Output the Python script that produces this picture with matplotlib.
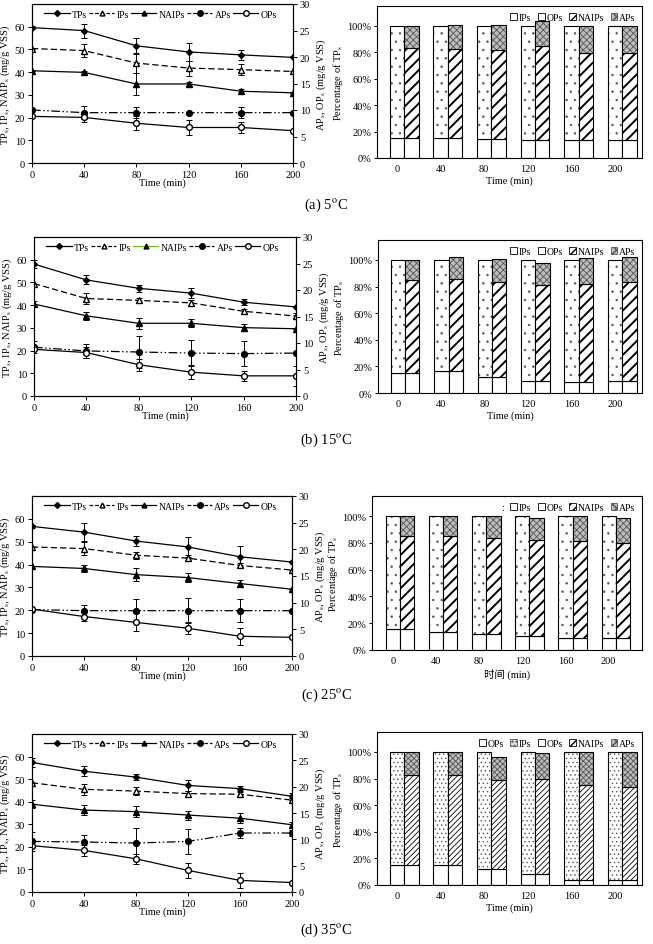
import matplotlib
matplotlib.use("Agg")
import matplotlib.pyplot as plt
from matplotlib.lines import Line2D
from matplotlib.patches import Patch
import numpy as np

plt.rcParams['font.family'] = ['Liberation Serif', 'Noto Sans CJK SC']
plt.rcParams['mathtext.fontset'] = 'stix'
plt.rcParams['axes.linewidth'] = 0.8

time = [0, 40, 80, 120, 160, 200]
captions = ["(a) 5$^{\\mathrm{o}}$C", "(b) 15$^{\\mathrm{o}}$C",
            "(c) 25$^{\\mathrm{o}}$C", "(d) 35$^{\\mathrm{o}}$C"]

# left axis (mg/g VSS), one row per temperature
tps = [[59.6, 58.3, 51.6, 48.9, 47.6, 46.5],
       [58.1, 51.1, 47.4, 45.3, 41.3, 39.2],
       [56.7, 54.2, 50.3, 47.7, 43.4, 41.1],
       [57.4, 53.5, 50.9, 47.2, 45.8, 42.4]]
tps_err = [[0.7, 3.1, 3.4, 4.0, 2.3, 0],
           [1.7, 2.0, 1.5, 2.2, 1.2, 0],
           [0.5, 4.1, 2.2, 4.2, 4.6, 0],
           [1.9, 2.3, 1.2, 2.5, 1.0, 1.5]]
ips = [[50.4, 49.5, 44.0, 41.8, 41.1, 40.3],
       [49.5, 42.9, 42.1, 41.0, 37.3, 35.2],
       [47.7, 47.0, 44.1, 42.8, 39.6, 37.6],
       [48.4, 45.5, 44.7, 43.6, 43.3, 40.7]]
ips_err = [[0, 3.0, 4.5, 3.3, 2.5, 0],
           [0, 2.3, 1.0, 1.1, 1.1, 1.4],
           [0, 2.9, 1.6, 1.4, 1.2, 0],
           [0, 2.5, 1.6, 1.3, 1.2, 0.8]]
naips = [[40.6, 39.9, 34.8, 34.8, 31.6, 30.9],
         [40.5, 35.3, 32.0, 32.0, 30.1, 29.6],
         [39.2, 38.3, 35.6, 34.3, 31.7, 29.2],
         [38.9, 36.3, 35.6, 34.1, 32.7, 29.8]]
naips_err = [[0, 0.8, 4.7, 0.8, 0.8, 0],
             [1.5, 1.8, 2.5, 1.8, 1.5, 0],
             [0, 1.4, 2.7, 1.9, 1.6, 0],
             [1.8, 2.2, 2.5, 2.0, 2.2, 1.4]]
# right axis (mg/g VSS)
aps = [[10.0, 9.5, 9.5, 9.5, 9.5, 9.5],
       [9.2, 8.5, 8.3, 8.1, 8.0, 8.1],
       [8.7, 8.5, 8.5, 8.5, 8.5, 8.5],
       [9.6, 9.5, 9.3, 9.6, 11.2, 11.2]]
aps_err = [[0, 1.2, 1.0, 0, 1.1, 0],
           [1.1, 1.4, 3.1, 2.5, 2.3, 0],
           [0, 1.0, 2.2, 2.3, 2.1, 0],
           [1.8, 1.3, 2.8, 2.4, 1.0, 0.5]]
ops = [[8.8, 8.6, 7.5, 6.7, 6.7, 6.1],
       [8.8, 8.2, 5.9, 4.5, 3.8, 3.8],
       [8.8, 7.4, 6.3, 5.2, 3.7, 3.5],
       [8.8, 7.9, 6.3, 4.1, 2.2, 1.8]]
ops_err = [[0, 0.9, 1.35, 1.35, 1.0, 0],
           [0, 1.0, 1.1, 1.3, 1.0, 1.9],
           [0, 0.9, 1.7, 1.1, 1.6, 0],
           [0, 1.0, 0.95, 1.5, 1.5, 0]]

# percentage of TPs
pct_ops = [[14.9, 14.9, 14.1, 13.6, 13.4, 13.4],
           [14.8, 16.3, 12.1, 9.0, 8.3, 9.0],
           [15.5, 13.5, 12.0, 10.7, 8.7, 8.7],
           [14.9, 14.9, 11.8, 8.0, 3.8, 3.8]]
pct_ips = [[85.1, 85.1, 85.9, 86.4, 86.6, 86.6],
           [85.2, 83.7, 87.9, 91.0, 91.7, 91.0],
           [84.5, 86.5, 88.0, 89.3, 91.3, 91.3],
           [85.1, 85.1, 88.2, 92.0, 96.2, 96.2]]
pct_naips = [[68.7, 67.5, 67.5, 70.8, 66.4, 65.7],
             [69.9, 69.6, 71.3, 71.9, 73.6, 74.4],
             [69.3, 71.3, 71.3, 71.6, 72.6, 71.3],
             [68.0, 67.5, 67.0, 71.3, 71.0, 69.7]]
pct_aps = [[16.4, 18.1, 18.9, 18.9, 20.2, 20.9],
           [15.3, 16.6, 17.6, 17.1, 19.9, 18.9],
           [15.2, 15.2, 16.7, 16.5, 18.7, 18.5],
           [17.1, 17.6, 17.4, 20.2, 25.2, 26.5]]

W, H = 653, 945
fig = plt.figure(figsize=(W / 100, H / 100), dpi=100)


def rect(l, r, t, b):
    return [l / W, 1 - b / H, (r - l) / W, (b - t) / H]


line_boxes = [(32, 293, 5, 164), (34, 296, 238, 397),
              (32, 292, 497, 657), (32, 292, 735, 893)]
bar_boxes = [(377, 642, 7, 159), (378, 642, 241, 394),
             (372, 642, 497, 651), (377, 642, 733, 886)]
bar_xlims = [(-0.46, 5.62), (-0.46, 5.62), (-0.48, 5.77), (-0.46, 5.62)]
caption_y = [205, 440, 695, 930]
dashdotdot = (0, (7, 2, 1.2, 2, 1.2, 2))

ebkw = dict(capsize=2, elinewidth=0.7, capthick=0.7, ecolor='black')

for k in range(4):
    ax = fig.add_axes(rect(*line_boxes[k]))
    ax2 = ax.twinx()
    ax.errorbar(time, tps[k], yerr=tps_err[k], color='black', lw=0.9,
                marker='D', ms=3, **ebkw)
    ax.errorbar(time, ips[k], yerr=ips_err[k], color='black', lw=0.9,
                ls=(0, (5, 2.5)), marker='^', ms=3.8, mfc='white', **ebkw)
    ax.errorbar(time, naips[k], yerr=naips_err[k], color='black', lw=0.9,
                marker='^', ms=3.8, **ebkw)
    ax2.errorbar(time, aps[k], yerr=aps_err[k], color='black', lw=0.9,
                 ls=dashdotdot, marker='o', ms=4.2, **ebkw)
    ax2.errorbar(time, ops[k], yerr=ops_err[k], color='black', lw=0.9,
                 marker='o', ms=4.2, mfc='white', **ebkw)
    ax.set_xlim(0, 200)
    ax.set_ylim(0, 70)
    ax.set_yticks(range(0, 61, 10))
    ax.set_xticks(time)
    ax2.set_ylim(0, 30)
    ax2.set_yticks(range(0, 31, 5))
    for a in (ax, ax2):
        a.tick_params(direction='out', length=3, width=0.7, labelsize=7.5, pad=2)
    ax.set_xlabel('Time (min)', fontsize=7.5, labelpad=-1)
    ax.set_ylabel(r'TP$_\mathrm{s}$, IP$_\mathrm{s}$, NAIP$_\mathrm{s}$ (mg/g VSS)',
                  fontsize=7.5, labelpad=2)
    ax2.set_ylabel(r'AP$_\mathrm{s}$, OP$_\mathrm{s}$ (mg/g VSS)', fontsize=7.5, labelpad=3)

    naips_color = '#66cc00' if k == 1 else 'black'
    handles = [
        Line2D([], [], color='black', lw=0.9, marker='D', ms=3),
        Line2D([], [], color='black', lw=0.9, ls=(0, (3, 1.5)), marker='^', ms=3.5, mfc='white'),
        Line2D([], [], color=naips_color, lw=0.9, marker='^', ms=3.5, mfc='black', mec='black'),
        Line2D([], [], color='black', lw=0.9, ls=(0, (3, 1.5)), marker='o', ms=4),
        Line2D([], [], color='black', lw=0.9, marker='o', ms=4, mfc='white'),
    ]
    ax2.legend(handles, ['TPs', 'IPs', 'NAIPs', 'APs', 'OPs'], loc='upper left',
               bbox_to_anchor=(0.025, 1.0), ncol=5, frameon=False, fontsize=7,
               handlelength=2.6, handletextpad=0.2, columnspacing=0.25,
               borderaxespad=0.4, borderpad=0.2)

    # stacked percentage bars
    bx = fig.add_axes(rect(*bar_boxes[k]))
    x = np.arange(len(time))
    w = 0.33
    fine = (k == 3)
    dot_h = '....' if fine else '..'
    line_h = '//////' if fine else '///'
    cross_h = 'xxxxxx' if fine else 'xxxxx'
    hatch_lw = 0.6 if fine else 1.4

    def layer(xpos, vals, bottom, face, hatch, hcolor, hlw):
        with plt.rc_context({'hatch.linewidth': hlw}):
            bars = bx.bar(xpos, vals, w, bottom=bottom, color=face, hatch=hatch,
                          edgecolor=hcolor, linewidth=0)
            for p in bars:
                if hasattr(p, 'set_hatch_linewidth'):
                    p.set_hatch_linewidth(hlw)
        bx.bar(xpos, vals, w, bottom=bottom, fill=False, edgecolor='black',
               linewidth=0.8)

    b_ops = np.array(pct_ops[k])
    b_nai = np.array(pct_naips[k])
    layer(x, b_ops, 0, 'white', None, 'black', 0.5)
    layer(x, pct_ips[k], b_ops, 'white', dot_h, '#555555', 0.5)
    layer(x + w, b_ops, 0, 'white', None, 'black', 0.5)
    layer(x + w, b_nai, b_ops, 'white', line_h, 'black', hatch_lw)
    layer(x + w, pct_aps[k], b_ops + b_nai, '#bdbdbd', cross_h, '#555555', 0.6)

    bx.set_xlim(*bar_xlims[k])
    bx.set_ylim(0, 115)
    bx.set_yticks(range(0, 101, 20))
    bx.set_yticklabels([f'{v}%' for v in range(0, 101, 20)])
    bx.set_xticks(x)
    bx.set_xticklabels([str(t) for t in time])
    bx.tick_params(axis='x', length=0, labelsize=7.5, pad=4)
    bx.tick_params(axis='y', direction='out', length=2, width=0.7, labelsize=7.5, pad=2)
    bx.set_xlabel('时间 (min)' if k == 2 else 'Time (min)', fontsize=7.5, labelpad=2)
    bx.set_ylabel(r'Percentage of TP$_\mathrm{s}$', fontsize=7.5, labelpad=2)

    p_white = Patch(facecolor='white', edgecolor='black', lw=0.6)
    p_dots = Patch(facecolor='#dddddd', edgecolor='#555555', hatch='....', lw=0.6)
    p_lines = Patch(facecolor='white', edgecolor='black', hatch='////', lw=0.6)
    p_cross = Patch(facecolor='#bdbdbd', edgecolor='#555555', hatch='xxxx', lw=0.6)
    if k == 3:
        lh = [p_white, p_dots, p_white, p_lines, p_cross]
        ll = ['OPs', 'IPs', 'OPs', 'NAIPs', 'APs']
    elif k == 2:
        lh = [Patch(facecolor='none', edgecolor='none'), p_white, p_white, p_lines, p_cross]
        ll = [':', 'IPs', 'OPs', 'NAIPs', 'APs']
    else:
        lh = [p_white, p_white, p_lines, p_cross]
        ll = ['IPs', 'OPs', 'NAIPs', 'APs']
    bx.legend(lh, ll, loc='upper right', ncol=len(lh), frameon=False, fontsize=7,
              handlelength=0.7, handleheight=0.7, handletextpad=0.15,
              columnspacing=0.7, borderaxespad=0.3)

    fig.text(0.5, 1 - caption_y[k] / H, captions[k], ha='center', va='center',
             fontsize=10.5)

fig.savefig('out.png', dpi=100)
